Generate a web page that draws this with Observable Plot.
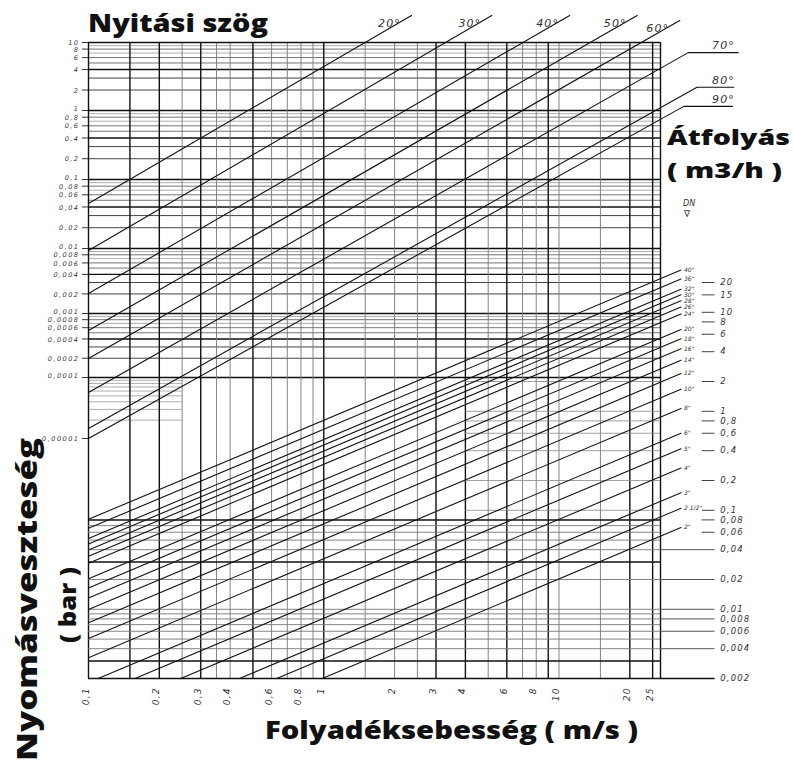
<!DOCTYPE html>
<html><head><meta charset="utf-8">
<script src="https://cdn.jsdelivr.net/npm/d3@7"></script>
<script src="https://cdn.jsdelivr.net/npm/@observablehq/plot@0.6"></script>
<style>
body{margin:0;background:#fff;}
#wrap{position:relative;width:794px;height:762px;overflow:hidden;background:#fff;}
#wrap svg{position:absolute;left:0;top:0;background:transparent !important;overflow:visible;}
#wrap svg text{letter-spacing:1.1px;}
#wrap svg .pl text{letter-spacing:1.5px;}
#wrap svg .dn text{letter-spacing:0;}
#wrap svg.titles text{letter-spacing:0;}
</style></head><body><div id="wrap"></div>
<script>
// ---------- data ----------
const velocityTicks = [0.1,0.2,0.3,0.4,0.6,0.8,1,2,3,4,6,8,10,20,25];
const velocityGrid  = [0.1,0.15,0.2,0.25,0.3,0.35,0.4,0.5,0.6,0.7,0.8,0.9,1,1.5,2,2.5,3,4,5,6,7,8,9,10,15,20,25,27];
const velocityHeavy = [0.1,0.15,0.2,0.3,0.5,1,3,4,6,9,20,25,27];

const pressureTicks = [10,8,6,4,2,1,0.8,0.6,0.4,0.2,0.1,0.08,0.06,0.04,0.02,0.01,0.008,0.006,0.004,0.002,0.001,0.0008,0.0006,0.0004,0.0002,0.0001,0.00001];
const pressureRaised = [1,0.1,0.01,0.001,0.0001];
const pressureDecades = [0.0001,0.001,0.01,0.1,1];
const pressureMantissas = [1,2,3,4,5,6,7,8,9];
const pressureLowPartial = [0.00002,0.00003,0.00004,0.00005,0.00006,0.00007,0.00008,0.00009];

const angleNames      = ["20°","30°","40°","50°","60°","70°","80°","90°"];
const angleStartLoss  = [0.0449,0.00932,0.00203,0.000542,0.000198,0.0000568,0.0000146,0.00001]; // bar at 0,1 m/s
const angleEndSpeed   = [2.36,5.18,11.1,21.5,32.6,35.4,38.6,33.9];
const angleEndLoss    = [25,25,25,25,21,7.1,2.2,1.15];
const angleLeaderEnd  = [null,null,null,null,null,57.8,55.3,54.6];

const flowTicks = [20,15,10,8,6,4,2,1,0.8,0.6,0.4,0.2,0.1,0.08,0.06,0.04,0.02,0.01,0.008,0.006,0.004,0.002];
const flowGrid  = [0.003,0.004,0.005,0.006,0.007,0.008,0.009,0.01,0.02,0.03,0.04,0.05,0.06,0.07,0.08];
const flowHeavy = [0.003,0.03,0.08];
const flowLong  = [0.04,0.02,0.01,0.008,0.006,0.004,0.002];
const flowUpper = [0.1,0.2,0.4,0.6,0.8,1,2];

const dnNames   = ['2"','2 1/2"','3"','4"','5"','6"','8"','10"','12"','14"','16"','18"','20"','24"','26"','28"','30"','32"','36"','40"'];
const dnFlowAt1 = [0.00203,0.00317,0.00456,0.00811,0.0127,0.0182,0.0324,0.0507,0.073,0.0993,0.130,0.164,0.203,0.292,0.343,0.397,0.456,0.519,0.657,0.811]; // at 1 m/s
const dnEndSpeed = 33;

// ---------- helpers ----------
const fmt = d => String(d).replace(".", ",");
const W = 794, H = 762;
const common = {
  width: W, height: H,
  marginTop: 42, marginBottom: 84, marginLeft: 88, marginRight: 134,
  x: {type: "log", domain: [0.1, 27], range: [88, 660], axis: null}
};
const small = {fontFamily: "DejaVu Sans", fontStyle: "italic", fontSize: 9, fill: "#333"};

const pGrid = [];
for (const d of pressureDecades) for (const m of pressureMantissas) {
  const p = +(m * d).toPrecision(3);
  let c = "#8a8a8a", w = 0.7;
  if (m === 1 || m === 4) { c = "#111"; w = 1.4; }
  else if (m === 2 || m === 3) { c = "#444"; w = 1.0; }
  else if (m === 6 || m === 8 || m === 5) { c = "#666"; w = 0.9; }
  pGrid.push({p, c, w});
}
const vGrid = velocityGrid.map(v => velocityHeavy.includes(v) ? {v, c: "#111", w: 1.4} : {v, c: "#777", w: 0.9});

const anglePts = [];
angleNames.forEach((a, i) => {
  anglePts.push({a, v: 0.1, p: angleStartLoss[i]});
  anglePts.push({a, v: angleEndSpeed[i], p: angleEndLoss[i]});
  if (angleLeaderEnd[i]) anglePts.push({a, v: angleLeaderEnd[i], p: angleEndLoss[i]});
});
const angleTop = angleNames.map((a, i) => ({a, v: angleEndSpeed[i], p: angleEndLoss[i], lead: angleLeaderEnd[i]}));

const plot1 = Plot.plot({
  ...common,
  y: {type: "log", domain: [1e-5,1e-4,1e-3,0.01,0.1,1,10], range: [438,377,313,248,179,110,42], axis: null},
  marks: [
    Plot.ruleY(pGrid, {y: "p", x1: 0.1, x2: 27, stroke: "c", strokeWidth: "w"}),
    Plot.ruleY(pressureLowPartial, {y: d => d, x1: 0.1, x2: 0.25, stroke: "#999", strokeWidth: 0.8}),
    Plot.ruleX(vGrid, {x: "v", stroke: "c", strokeWidth: "w"}),
    Plot.ruleY([10], {x1: 0.1, x2: 27, stroke: "#111", strokeWidth: 1.6}),
    Plot.line(anglePts, {x: "v", y: "p", z: "a", stroke: "#111", strokeWidth: 1.1}),
    Plot.text(angleTop.filter(d => !d.lead), {x: "v", y: "p", text: "a", dx: -22, dy: 8, ...small, fontSize: 11, textAnchor: "middle"}),
    Plot.text(angleTop.filter(d => d.lead), {x: 50, y: "p", text: "a", dy: -7, ...small, fontSize: 11, textAnchor: "middle"}),
    // pressure axis (left)
    Plot.ruleY(pressureTicks, {y: d => d, x1: 0.0943, x2: 0.1, stroke: "#333", strokeWidth: 1}),
    Plot.text(pressureTicks.filter(d => !pressureRaised.includes(d)), {y: d => d, frameAnchor: "left", dx: -9, dy: 0.5, textAnchor: "end", text: fmt, ...small, fontSize: 6.5, className: "pl"}),
    Plot.text(pressureRaised, {y: d => d, frameAnchor: "left", dx: -9, dy: -2, textAnchor: "end", text: fmt, ...small, fontSize: 6.5, className: "pl"}),
    // velocity axis (bottom)
    Plot.text(velocityTicks, {x: d => d, frameAnchor: "bottom", dy: 9, rotate: -90, textAnchor: "end", text: fmt, ...small})
  ]
});

const dnPts = [];
const dnEnds = [];
dnNames.forEach((n, i) => {
  const q1 = dnFlowAt1[i];
  const vs = Math.max(0.1, 0.002 / q1);
  dnPts.push({n, v: vs, q: q1 * vs});
  dnPts.push({n, v: dnEndSpeed, q: q1 * dnEndSpeed});
  dnEnds.push({n, v: dnEndSpeed, q: q1 * dnEndSpeed});
});

const plot2 = Plot.plot({
  ...common,
  y: {type: "log", domain: [0.002, 20], range: [678, 282], axis: null},
  marks: [
    Plot.ruleY(flowGrid, {y: d => d, x1: 0.1, x2: 27, stroke: d => flowHeavy.includes(d) ? "#111" : "#777", strokeWidth: d => flowHeavy.includes(d) ? 1.5 : 0.9}),
    Plot.ruleY(flowUpper, {y: d => d, x1: 4, x2: 27, stroke: "#888", strokeWidth: 0.8}),
    Plot.ruleY(flowLong, {y: d => d, x1: 27, x2: 46, stroke: "#555", strokeWidth: 1}),
    Plot.ruleY([0.002], {x1: 0.1, x2: 46, stroke: "#111", strokeWidth: 1.5}),
    Plot.ruleY(flowTicks.filter(d => !flowLong.includes(d)), {y: d => d, x1: 40.6, x2: 46, stroke: "#444", strokeWidth: 1}),
    Plot.line(dnPts, {x: "v", y: "q", z: "n", stroke: "#111", strokeWidth: 1.1}),
    Plot.text(dnEnds, {x: "v", y: "q", text: "n", dx: 3, textAnchor: "start", ...small, fontSize: 6, className: "dn"}),
    Plot.text(flowTicks, {x: 48.5, y: d => d, text: fmt, textAnchor: "start", ...small, fontSize: 8.5})
  ]
});

const wrap = document.getElementById("wrap");
wrap.appendChild(plot1);
wrap.appendChild(plot2);

// ---------- titles ----------
const svg = d3.select(wrap).append("svg").attr("class", "titles").attr("width", W).attr("height", H);
const bold = (sel) => sel.attr("font-family", "Open Sans").attr("font-weight", 800).attr("fill", "#111").attr("lengthAdjust", "spacingAndGlyphs");
bold(svg.append("text").attr("x", 88).attr("y", 32).attr("font-size", 24).attr("textLength", 180).text("Nyitási szög"));
bold(svg.append("text").attr("x", 667).attr("y", 145).attr("font-size", 21).attr("textLength", 123).text("Átfolyás"));
bold(svg.append("text").attr("x", 667).attr("y", 178).attr("font-size", 21).attr("textLength", 115).text("( m3/h )"));
bold(svg.append("text").attr("x", 265).attr("y", 739).attr("font-size", 24).attr("textLength", 373).text("Folyadéksebesség ( m/s )"));
bold(svg.append("text").attr("transform", "translate(37,761) rotate(-90)").attr("font-size", 28).attr("textLength", 323).text("Nyomásveszteség"));
bold(svg.append("text").attr("transform", "translate(76,643) rotate(-90)").attr("font-size", 22).attr("textLength", 76).text("( bar )"));
svg.append("text").attr("x", 683).attr("y", 206).attr("font-family", "DejaVu Sans").attr("font-style", "italic").attr("font-size", 8).attr("fill", "#333").text("DN");
svg.append("text").attr("x", 684).attr("y", 217).attr("font-family", "DejaVu Sans").attr("font-size", 9).attr("fill", "#333").text("∇");
</script></body></html>
